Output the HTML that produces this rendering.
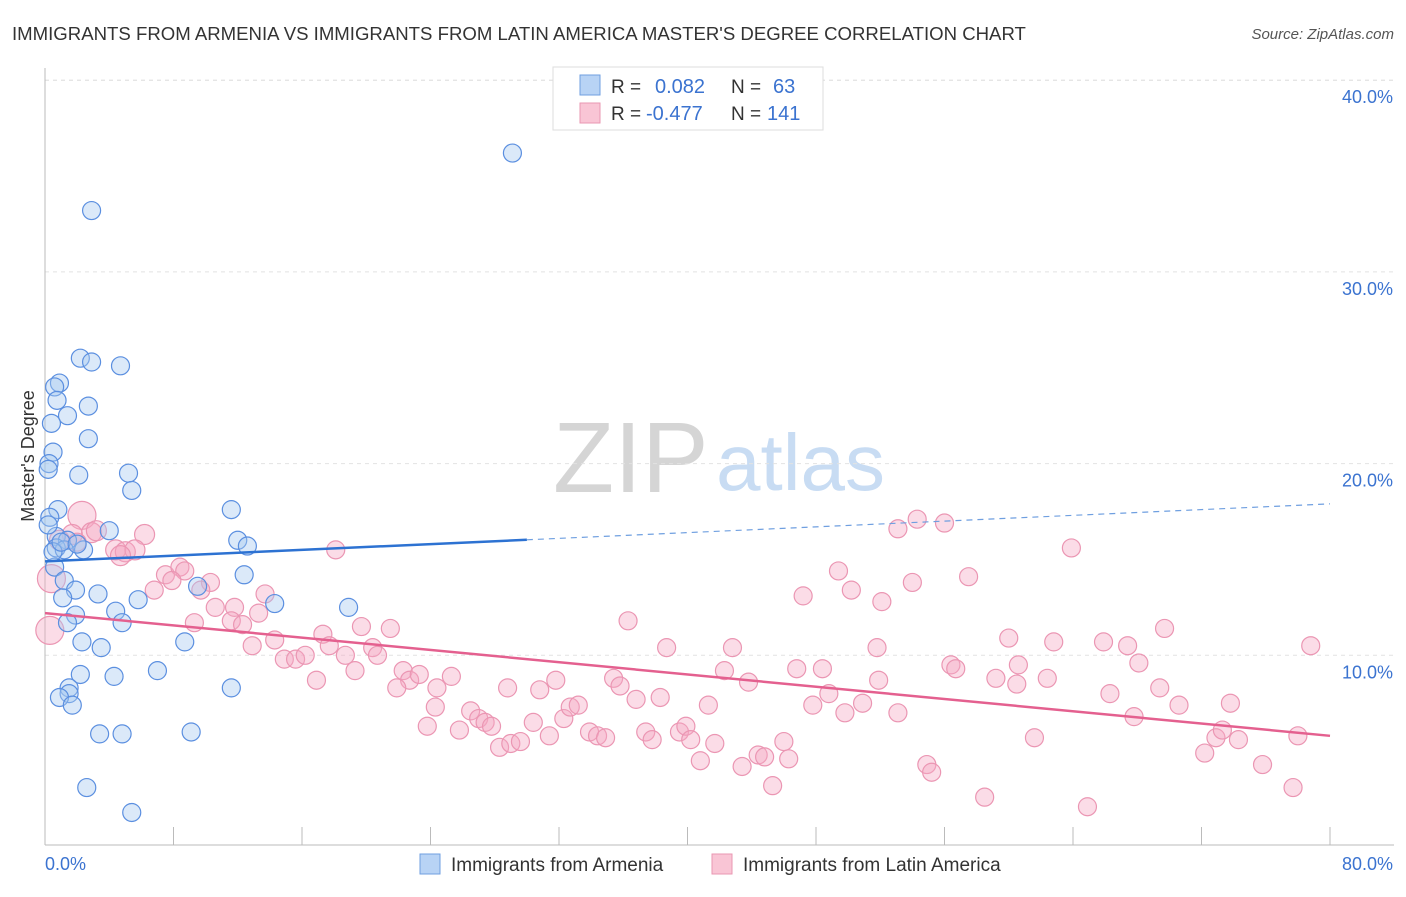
<!DOCTYPE html>
<html><head><meta charset="utf-8"><style>
body{margin:0;background:#fff;font-family:"Liberation Sans",sans-serif;}
svg text{font-family:"Liberation Sans",sans-serif;}
</style></head><body>
<svg id="chart" width="1406" height="892" viewBox="0 0 1406 892" xmlns="http://www.w3.org/2000/svg">
<text x="12" y="40" font-size="18.6" fill="#333">IMMIGRANTS FROM ARMENIA VS IMMIGRANTS FROM LATIN AMERICA MASTER'S DEGREE CORRELATION CHART</text>
<text x="1394" y="39" font-size="15" font-style="italic" fill="#555" text-anchor="end">Source: ZipAtlas.com</text>
<g>
<text x="553" y="492" font-size="100" font-family="Liberation Serif" fill="#d5d5d5">ZIP</text>
<text x="716" y="490" font-size="80" fill="#c8dcf3">atlas</text>
</g>
<g id="grid"></g>
<g id="axes"></g>
<g id="pink"></g>
<g id="blue"></g>
<g id="trends"></g>
<text transform="translate(34,456) rotate(-90)" font-size="18" fill="#333" text-anchor="middle">Master's Degree</text>
<g>
<rect x="553" y="67" width="270" height="63" fill="#fff" stroke="#ddd"/>
<rect x="580" y="75" width="20" height="20" fill="#b8d3f5" stroke="#6f9fe0"/>
<rect x="580" y="103" width="20" height="20" fill="#f9c5d5" stroke="#e997b2"/>
<text x="611" y="93" font-size="19" fill="#333">R =</text>
<text x="655" y="93" font-size="20" fill="#3b73d0">0.082</text>
<text x="731" y="93" font-size="19" fill="#333">N =</text>
<text x="773" y="93" font-size="20" fill="#3b73d0">63</text>
<text x="611" y="120" font-size="19" fill="#333">R =</text>
<text x="646" y="120" font-size="20" fill="#3b73d0">-0.477</text>
<text x="731" y="120" font-size="19" fill="#333">N =</text>
<text x="767" y="120" font-size="20" fill="#3b73d0">141</text>
</g>
<g>
<rect x="420" y="854" width="20" height="20" fill="#b8d3f5" stroke="#6f9fe0"/>
<text x="451" y="871" font-size="19" fill="#333">Immigrants from Armenia</text>
<rect x="712" y="854" width="20" height="20" fill="#f9c5d5" stroke="#e997b2"/>
<text x="743" y="871" font-size="19" fill="#333">Immigrants from Latin America</text>
</g>
</svg>
<script>
const yTicks=[10,20,30,40];
const yTickLabels=["10.0%","20.0%","30.0%","40.0%"];
const xTicks=[0,8,16,24,32,40,48,56,64,72,80];
const xEndLabels=["0.0%","80.0%"];
const blueX=[29.1,2.9,2.2,4.7,2.9,0.9,0.6,0.75,2.7,1.4,0.4,2.7,0.5,0.25,0.2,2.1,5.2,5.4,11.6,0.8,0.3,4.0,0.7,1.4,12.0,12.6,2.4,0.7,1.2,0.6,12.4,1.2,9.5,1.9,1.1,3.3,5.8,14.3,18.9,4.4,1.9,4.8,1.4,2.3,3.5,8.7,7.0,2.2,4.3,11.6,1.5,1.5,0.9,1.7,3.4,4.8,9.1,2.6,5.4,0.2,0.5,1.0,2.0];
const blueY=[36.2,33.2,25.5,25.1,25.3,24.2,24.0,23.3,23.0,22.5,22.1,21.3,20.6,20.0,19.7,19.4,19.5,18.6,17.6,17.6,17.2,16.5,16.2,16.0,16.0,15.7,15.5,15.6,15.5,14.6,14.2,13.9,13.6,13.4,13.0,13.2,12.9,12.7,12.5,12.3,12.1,11.7,11.7,10.7,10.4,10.7,9.2,9.0,8.9,8.3,8.3,8.0,7.8,7.4,5.9,5.9,6.0,3.1,1.8,16.8,15.4,15.9,15.8];
const pinkX=[0.3,0.4,2.3,2.9,3.2,1.7,0.9,6.2,4.4,5.0,5.6,4.7,18.1,7.5,8.4,8.7,7.9,10.3,6.8,9.7,10.6,11.8,11.6,9.3,13.7,13.3,12.3,12.9,14.3,17.3,19.7,21.5,17.7,14.9,15.6,16.2,16.9,18.7,19.3,20.4,20.7,22.3,22.7,21.9,23.3,24.4,25.3,24.3,23.8,25.8,26.5,27.0,27.4,27.8,28.3,29.0,29.6,28.8,30.8,31.4,30.4,31.8,32.3,32.7,33.2,33.9,34.4,34.9,35.4,35.8,36.3,36.8,37.4,37.8,38.3,38.7,39.5,39.9,40.2,40.8,41.3,41.7,42.3,42.8,43.4,43.8,44.4,44.8,45.3,46.0,46.3,46.8,47.2,47.8,48.4,48.8,49.4,49.8,50.2,50.9,51.8,52.1,51.9,53.1,53.1,54.0,54.3,54.9,55.2,56.0,56.4,56.7,57.5,58.5,59.2,60.0,60.5,60.6,61.6,62.4,62.8,63.9,64.9,65.9,66.3,67.4,67.8,68.1,69.4,69.7,70.6,72.2,72.9,73.3,73.8,74.3,75.8,77.7,78.0,78.8,2.0];
const pinkY=[11.3,14.0,17.3,16.4,16.5,16.3,16.0,16.3,15.5,15.4,15.5,15.2,15.5,14.2,14.6,14.4,13.9,13.8,13.4,13.4,12.5,12.5,11.8,11.7,13.2,12.2,11.6,10.5,10.8,11.1,11.5,11.4,10.5,9.8,9.8,10.0,8.7,10.0,9.2,10.4,10.0,9.2,8.7,8.3,9.0,8.3,8.9,7.3,6.3,6.1,7.1,6.7,6.5,6.3,5.2,5.4,5.5,8.3,8.2,5.8,6.5,8.7,6.7,7.3,7.4,6.0,5.8,5.7,8.8,8.4,11.8,7.7,6.0,5.6,7.8,10.4,6.0,6.3,5.6,4.5,7.4,5.4,9.2,10.4,4.2,8.6,4.8,4.7,3.2,5.5,4.6,9.3,13.1,7.4,9.3,8.0,14.4,7.0,13.4,7.5,10.4,12.8,8.7,16.6,7.0,13.8,17.1,4.3,3.9,16.9,9.5,9.3,14.1,2.6,8.8,10.9,8.5,9.5,5.7,8.8,10.7,15.6,2.1,10.7,8.0,10.5,6.8,9.6,8.3,11.4,7.4,4.9,5.7,6.1,7.5,5.6,4.3,3.1,5.8,10.5,15.9];
const blueTrend=[14.9,0.0375];
const pinkTrend=[12.2,-0.08];
const NS="http://www.w3.org/2000/svg";
const X0=45,X1=1330,Y0=847,YPX=19.17;
function xs(v){return X0+(X1-X0)*v/80;}
function ys(v){return Y0-v*YPX;}
function mk(tag,attrs,parent){const e=document.createElementNS(NS,tag);for(const k in attrs)e.setAttribute(k,attrs[k]);parent.appendChild(e);return e;}
const grid=document.getElementById('grid'),axes=document.getElementById('axes');
const gtop=mk('line',{x1:45,x2:1394,y1:ys(40),y2:ys(40),stroke:'#ddd','stroke-dasharray':'4,4'},grid);


yTicks.forEach((t,i)=>{
 const l=mk('line',{x1:45,x2:1394,y1:ys(t),y2:ys(t),stroke:'#e2e2e2','stroke-dasharray':'4,4'},grid);
 
 
 const tx=mk('text',{x:1393,y:ys(t)+23,'font-size':18,fill:'#3b73d0','text-anchor':'end'},axes);
 tx.textContent=yTickLabels[i];
 
 
});
const ax=mk('line',{x1:45,x2:1394,y1:845,y2:845,stroke:'#bbb'},axes);


const ay=mk('line',{x1:45,x2:45,y1:68,y2:845,stroke:'#bbb'},axes);


xTicks.forEach(t=>{
 const l=mk('line',{x1:xs(t),x2:xs(t),y1:827,y2:845,stroke:'#bbb'},axes);
 
 
});
const xl0=mk('text',{x:45,y:870,'font-size':18,fill:'#3b73d0'},axes);xl0.textContent=xEndLabels[0];


const xl1=mk('text',{x:1393,y:870,'font-size':18,fill:'#3b73d0','text-anchor':'end'},axes);xl1.textContent=xEndLabels[1];


const pg=document.getElementById('pink');
pinkX.forEach((v,i)=>{
 const r=i<3?14:(i<12?10:9);
 const c=mk('circle',{cx:xs(v),cy:ys(pinkY[i]),r:r,fill:'rgba(246,168,195,0.4)',stroke:'#eb96b3','stroke-width':1.2},pg);
 
 
});
const bg=document.getElementById('blue');
blueX.forEach((v,i)=>{
 const c=mk('circle',{cx:xs(v),cy:ys(blueY[i]),r:9,fill:'rgba(165,199,240,0.4)',stroke:'#5b8fe0','stroke-width':1.2},bg);
 
 
});
const tg=document.getElementById('trends');
function tv(tr,x){return tr[0]+tr[1]*x;}
const b1=mk('line',{x1:xs(0),y1:ys(tv(blueTrend,0)),x2:xs(30),y2:ys(tv(blueTrend,30)),stroke:'#2d72d2','stroke-width':2.5},tg);


const b2=mk('line',{x1:xs(30),y1:ys(tv(blueTrend,30)),x2:xs(80),y2:ys(tv(blueTrend,80)),stroke:'#6f9fe0','stroke-width':1.2,'stroke-dasharray':'6,5'},tg);


const p1=mk('line',{x1:xs(0),y1:ys(tv(pinkTrend,0)),x2:xs(80),y2:ys(tv(pinkTrend,80)),stroke:'#e4608f','stroke-width':2.5},tg);


</script>
</body></html>
